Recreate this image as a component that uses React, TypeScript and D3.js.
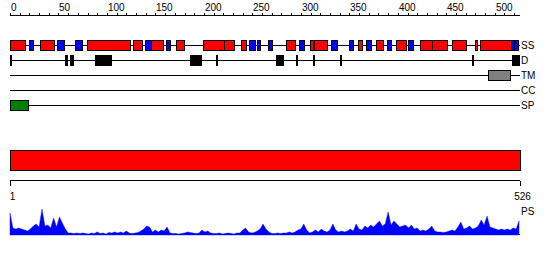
import React from "react";
import * as d3 from "d3";

const seqLength = 526;
const topTicks = d3.range(0, 521, 10);
const topLabels = [0, 50, 100, 150, 200, 250, 300, 350, 400, 450, 500];
const bottomLabels = [1, 526];

// Secondary structure: [start, end, type] H = helix (red), E = strand (blue)
const ssSegments: [number, number, string][] = [
  [1, 15, "H"], [21, 24, "E"], [32, 45, "H"], [49, 56, "E"], [68, 74, "E"],
  [80, 124, "H"], [128, 136, "H"], [140, 145, "E"], [146, 158, "H"], [162, 165, "E"],
  [172, 179, "H"], [200, 221, "H"], [222, 231, "H"], [239, 243, "H"], [248, 253, "E"],
  [256, 258, "E"], [267, 270, "E"], [286, 294, "H"], [299, 303, "E"], [310, 312, "H"],
  [315, 327, "H"], [332, 337, "E"], [351, 354, "E"], [360, 363, "H"], [368, 372, "E"],
  [378, 385, "H"], [390, 393, "E"], [399, 408, "H"], [412, 416, "E"], [424, 435, "H"],
  [436, 451, "H"], [457, 470, "H"], [481, 482, "H"], [486, 517, "H"], [518, 520, "E"],
  [521, 524, "E"],
];
// Disordered residues
const disorderSegments: [number, number][] = [
  [1, 1], [58, 59], [63, 65], [89, 104], [187, 189], [191, 197], [213, 214],
  [275, 282], [296, 296], [313, 313], [341, 341], [477, 477], [519, 525],
];
const tmSegments: [number, number][] = [[494, 516]];
const ccSegments: [number, number][] = [];
const spSegments: [number, number][] = [[1, 19]];
const domainSegments: [number, number][] = [[1, 526]];

const trackNames = ["SS", "D", "TM", "CC", "SP"];

// PS profile sampled every 3 residues starting at residue 1
const psStep = 3;
const psValues = [
  22, 7, 6, 7, 6, 5, 4, 6, 9, 11, 8, 26, 9, 10, 7, 17, 8, 18, 12, 6,
  2, 2, 1.5, 2, 1.5, 2, 1.5, 1, 2, 1.5, 3, 1.5, 2, 1, 2.5, 2, 3, 2, 3, 2,
  4, 2, 1.5, 2, 2.5, 4, 6, 9, 8, 3, 5, 3, 5, 4, 8, 2, 1.5, 1.5, 1, 1.5,
  2, 3, 2.5, 2, 1.5, 2, 5, 3, 4, 2, 1.5, 1.5, 2, 1, 1.5, 2, 1.5, 1, 2, 2,
  5, 7, 3, 2, 2.5, 4, 6, 11, 6, 3, 1.5, 1.5, 2, 1.5, 2, 2, 3, 2, 3, 5,
  6, 11, 5, 2, 3, 5, 3, 6, 4, 3, 5, 11, 5, 3, 4, 3, 4, 6, 4, 11,
  6, 5, 9, 7, 10, 8, 11, 14, 9, 11, 23, 10, 14, 11, 8, 9, 10, 7, 10, 6,
  7, 4, 5, 4, 6, 9, 4, 3, 3, 2.5, 3, 4, 5, 4, 8, 13, 6, 7, 9, 6,
  7, 9, 15, 10, 19, 8, 7, 6, 5, 6, 5, 6, 5, 7, 6, 14,
];

const W = 550;
const H = 260;
const FONT = "'Liberation Sans', Arial, sans-serif";

export default function App() {
  const x = d3.scaleLinear().domain([0, seqLength]).range([10, 520]);
  const trackY = d3.scalePoint<string>().domain(trackNames).range([45.5, 105.5]);
  const psY = d3.scaleLinear().domain([0, 30]).range([235, 205]);

  const px = (v: number) => Math.round(x(v));
  const segRect = (s: number, e: number, cy: number, fill: string, key: string) => {
    const x0 = px(s - 1);
    const x1 = Math.max(px(e), x0 + 1);
    return (
      <rect key={key} x={x0 + 0.5} y={cy - 5} width={x1 - x0} height={10}
        fill={fill} stroke="#000" strokeWidth={1} shapeRendering="crispEdges" />
    );
  };

  const area = d3.area<number>()
    .x((_, i) => x(i * psStep))
    .y0(psY(0))
    .y1((d) => psY(d))
    .curve(d3.curveLinear);

  const axisY = 15.5;
  const botAxisY = 180.5;

  return (
    <svg width={W} height={H} style={{ position: "absolute", left: 0, top: 0, background: "#fff" }}
      fontFamily={FONT} fontSize={10}>
      {/* top axis */}
      <line x1={x(0)} x2={x(seqLength)} y1={axisY} y2={axisY} stroke="#000" shapeRendering="crispEdges" />
      {topTicks.map((t) => (
        <line key={"t" + t} x1={px(t) + 0.5} x2={px(t) + 0.5} y1={axisY} y2={axisY - 3}
          stroke="#000" shapeRendering="crispEdges" />
      ))}
      {topLabels.map((t) => (
        <text key={"l" + t} x={px(t) + 1} y={11} textAnchor="start" fill="#000">{t}</text>
      ))}

      {/* tracks */}
      {trackNames.map((n) => (
        <g key={n}>
          <line x1={x(0)} x2={x(seqLength)} y1={trackY(n)} y2={trackY(n)} stroke="#000" shapeRendering="crispEdges" />
          <text x={521} y={(trackY(n) as number) + 3.8} fill="#000">{n}</text>
        </g>
      ))}
      {ssSegments.map(([s, e, t], i) =>
        segRect(s, e, trackY("SS") as number, t === "H" ? "#ff0000" : "#0000ff", "ss" + i))}
      {disorderSegments.map(([s, e], i) => segRect(s, e, trackY("D") as number, "#000", "d" + i))}
      {tmSegments.map(([s, e], i) => segRect(s, e, trackY("TM") as number, "#808080", "tm" + i))}
      {ccSegments.map(([s, e], i) => segRect(s, e, trackY("CC") as number, "#00c0c0", "cc" + i))}
      {spSegments.map(([s, e], i) => segRect(s, e, trackY("SP") as number, "#008000", "sp" + i))}

      {/* full-length bar */}
      {domainSegments.map(([s, e], i) => (
        <rect key={"dom" + i} x={px(s - 1) + 0.5} y={150.5} width={px(e) - px(s - 1)} height={20}
          fill="#ff0000" stroke="#000" shapeRendering="crispEdges" />
      ))}

      {/* bottom axis */}
      <line x1={x(0)} x2={x(seqLength)} y1={botAxisY} y2={botAxisY} stroke="#000" shapeRendering="crispEdges" />
      {bottomLabels.map((b) => {
        const xx = px(b === 1 ? 0 : b) + 0.5;
        return (
          <g key={"b" + b}>
            <line x1={xx} x2={xx} y1={botAxisY} y2={botAxisY + 5} stroke="#000" shapeRendering="crispEdges" />
            <text x={xx + 2} y={200} textAnchor="middle" fill="#000">{b}</text>
          </g>
        );
      })}

      {/* PS profile */}
      <path d={area(psValues) || ""} fill="#0000ff" stroke="#0000ff" strokeWidth={0.4} />
      <line x1={x(0)} x2={x(seqLength)} y1={234.5} y2={234.5} stroke="#0000ff" shapeRendering="crispEdges" />
      <text x={521} y={215} fill="#000">PS</text>
    </svg>
  );
}
